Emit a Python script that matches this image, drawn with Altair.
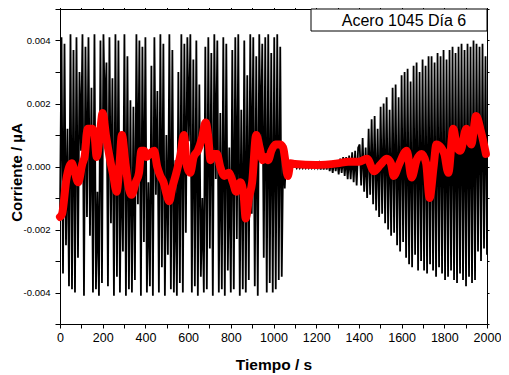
import altair as alt
import numpy as np
import pandas as pd

# Black raw signal (units of 1e-3), sampled evenly from 0 to 2000 s
seg_active = [
    -1.5, 4.1, -3.4, 3.9, -2.5, 1.2, -3.8, 4.2, -3.9, 3.7,
    -4.0, 4.1, -2.9, 3.0, 0.5, 4.2, -4.1, 3.8, -1.6, 4.1,
    -2.2, 2.5, -4.0, 4.2, -3.9, -0.8, -4.1, 4.0, -3.7, 4.2,
    1.5, 3.3, -3.8, 4.1, -1.8, 2.8, -4.1, 4.2, -3.5, 4.0,
    -4.0, 0.9, -2.7, 4.2, -4.1, 3.5, -3.9, 2.1, -4.0, 1.9,
    -3.6, 4.2, -1.2, 4.0, -4.1, 3.8, -2.4, 4.1, -4.0, -0.5,
    -3.8, 3.2, -4.1, 4.1, -0.9, 2.4, -4.0, 4.2, -3.2, 3.9,
    -4.1, 1.0, -2.8, 4.2, -3.9, 3.7, -4.0, 0.2, -4.1, 3.0,
    -3.7, 4.2, -4.0, 3.9, -2.1, 4.1, 0.8, 4.2, -4.0, 3.4,
    -3.8, 4.0, -4.1, 2.6, -3.5, -1.0, -4.0, 3.8, -3.9, 4.1,
    -2.6, 3.6, -4.1, 4.2, -0.4, 4.0, -4.0, 1.7, -3.9, 4.1,
    -4.1, 3.9, -3.3, 0.6, -4.0, 3.7, -3.9, 4.1, -2.3, 4.2,
    -4.1, 1.8, -3.9, 4.0, -4.0, 2.9, -3.6, 4.2, -1.5, 4.1,
    -3.8, 3.5, -4.1, 4.2, 0.3, 3.9, -2.9, 4.1, -4.0, 4.2,
    -3.7, 3.6, -4.0, 4.1, -3.9, 4.2, -3.6, 3.8, -3.5, 0.6,
]
seg_quiet = [
    -0.7, 0.4, -0.3, 0.2, -0.1, 0.1, 0.0, 0.05, -0.05, 0.05,
    -0.05, 0.05, -0.05, 0.05, -0.05, 0.05, -0.05, 0.05, -0.05, 0.05,
    -0.05, 0.05, -0.05, 0.1, -0.1, 0.1, -0.1, 0.1, -0.1, 0.15,
    -0.15, 0.15, -0.2, 0.2, -0.15, 0.2, -0.25, 0.25, -0.2, 0.3,
    -0.3, 0.3, -0.4, 0.35, -0.4, 0.45, -0.5, 0.5, -0.6, 0.6,
]
seg_growth = [
    0.7, -0.6, 0.9, -0.8, 0.6, -1.0, 1.2, -0.9, 1.5, -1.2,
    1.6, -1.4, 1.2, -1.6, 1.9, -1.5, 2.0, -1.8, 2.2, -2.0,
    1.8, -2.2, 2.5, -2.1, 2.6, -2.5, 2.2, -2.7, 2.9, -2.4,
    3.0, -2.9, 3.1, -3.1, 2.7, -3.2, 3.2, -2.8, 3.3, -3.3,
    3.0, -3.0, 3.4, -3.3, 3.2, -3.4, 3.5, -3.1, 3.5, -3.3,
    3.3, -3.5, 3.6, -3.2, 3.5, -3.4, 3.7, -3.6, 3.4, -3.5,
    3.7, -3.3, 3.8, -3.6, 3.6, -3.7, 3.8, -3.4, 3.9, -3.6,
    3.7, -3.8, 3.9, -3.5, 3.8, -3.7, 4.0, -3.6, 3.9, -2.7,
    3.8, -3.0, 3.9, -2.6, 3.5, -2.8,
]
raw_values = seg_active + seg_quiet + seg_growth
raw_time = np.linspace(0, 2000, len(raw_values))

# Red smoothed signal (units of 1e-3)
smooth_time = [0, 10, 30, 55, 70, 85, 105, 115, 130, 150, 160, 172, 185, 200, 215,
               235, 250, 265, 278, 290, 305, 320, 335, 355, 370, 381, 395, 405, 420,
               441, 455, 470, 485, 500, 512, 525, 545, 565, 580, 595, 610, 626, 645,
               665, 682, 695, 705, 720, 735, 750, 770, 790, 810, 825, 845, 860, 870,
               885, 900, 919, 935, 950, 965, 975, 990, 1010, 1030, 1045, 1055, 1067,
               1080, 1100, 1200, 1300, 1350, 1400, 1438, 1471, 1500, 1531, 1550, 1563,
               1590, 1624, 1647, 1670, 1694, 1715, 1731, 1750, 1763, 1785, 1800, 1819,
               1842, 1860, 1875, 1903, 1926, 1949, 1972, 1995]
smooth_values = [-1.6, -1.5, -0.4, 0.1, -0.2, -0.5, 0.1, 0.3, 1.2, 1.2, 1.1, 0.3, 0.9,
                 1.7, 1.0, 0.2, -0.3, -0.8, 0.0, 1.0, 0.2, -0.6, -0.9, -0.5, -0.2, 0.5,
                 0.5, 0.3, 0.4, 0.5, 0.0, -0.3, -0.5, -0.9, -1.1, -0.7, -0.2, 0.4, 1.0,
                 0.0, -0.2, 0.3, 0.5, 0.9, 1.4, 0.9, 0.2, 0.4, 0.4, 0.0, -0.3, -0.2,
                 -0.5, -0.8, -0.5, -0.9, -1.65, -1.0, -0.5, 1.0, 0.6, 0.2, 0.3, 0.2,
                 0.5, 0.7, 0.7, 0.6, 0.2, -0.3, 0.1, 0.08, 0.05, 0.1, 0.15, 0.15, 0.25,
                 -0.15, 0.05, 0.25, 0.1, -0.3, 0.1, 0.5, -0.35, 0.2, 0.4, 0.1, -1.0,
                 0.0, 0.7, 0.6, 0.4, -0.2, 1.2, 0.6, 0.5, 1.2, 0.7, 1.6, 1.1, 0.4]

x_ticks = list(range(0, 2001, 100))
y_ticks = list(range(-5, 6, 1))
legend_label = "Acero 1045 Día 6"
x_title = "Tiempo / s"
y_title = "Corriente / µA"

FONT = "Liberation Sans"

df_raw = pd.DataFrame({"t": raw_time, "v": raw_values})
df_smooth = pd.DataFrame({"t": smooth_time, "v": smooth_values})

xscale = alt.Scale(domain=[0, 2000], nice=False, zero=False)
yscale = alt.Scale(domain=[-5, 5], nice=False, zero=False)

x_axis = alt.Axis(
    orient="bottom", values=x_ticks, grid=False, format="d",
    labelExpr="datum.value % 200 === 0 ? datum.label : ''",
    labelFlush=False, labelOverlap=False,
    labelFont=FONT, labelFontSize=12.5, labelColor="black", labelPadding=3,
    tickColor="black", tickSize=4, domainColor="black",
    title=x_title, titleFont=FONT, titleFontSize=15.5, titleFontWeight="bold",
    titleColor="black", titleY=45, titleBaseline="alphabetic",
)
y_axis = alt.Axis(
    orient="left", values=y_ticks, grid=False,
    labelExpr="datum.value % 2 === 0 ? replace(format(datum.value / 1000, '.3f'), '\u2212', '-') : ''",
    labelFlush=False, labelOverlap=False,
    labelFont=FONT, labelFontSize=9.5, labelColor="black", labelPadding=5,
    tickColor="black", tickSize=5, domainColor="black",
    title=y_title, titleFont=FONT, titleFontSize=15, titleFontWeight="bold",
    titleColor="black", titleX=-36, titleY=163, titleAngle=-90,
    titleBaseline="bottom",
)

raw = alt.Chart(df_raw).mark_line(color="black", strokeWidth=1.8).encode(
    x=alt.X("t:Q", scale=xscale, axis=x_axis),
    y=alt.Y("v:Q", scale=yscale, axis=y_axis),
)

smooth = alt.Chart(df_smooth).mark_line(
    color="#ff0000", strokeWidth=8, interpolate="monotone",
    strokeCap="round", strokeJoin="round",
).encode(
    x=alt.X("t:Q", scale=xscale, axis=alt.Axis(
        orient="top", values=x_ticks, labels=False, title=None, grid=False,
        tickSize=2, tickColor="black", domainColor="black")),
    y=alt.Y("v:Q", scale=yscale, axis=alt.Axis(
        orient="right", values=y_ticks, labels=False, title=None, grid=False,
        tickSize=2, tickColor="black", domainColor="black")),
)

one = pd.DataFrame({"k": [0]})
box = alt.Chart(one).mark_rect(fill="white", stroke="black", strokeWidth=1).encode(
    x=alt.value(251), x2=alt.value(427), y=alt.value(0), y2=alt.value(22),
)
label = alt.Chart(one).mark_text(
    text=legend_label, font=FONT, fontSize=16, color="black",
    align="center", baseline="middle",
).encode(x=alt.value(344), y=alt.value(11.5))

chart = alt.layer(raw, smooth, box, label).resolve_axis(
    x="independent", y="independent"
).properties(
    width=427, height=315,
    autosize=alt.AutoSizeParams(type="none"),
    padding={"left": 52, "top": 1, "right": 14, "bottom": 51},
).configure_view(stroke=None).configure(background="white")

chart.save("out.html", embed_options={"renderer": "svg", "actions": False})
